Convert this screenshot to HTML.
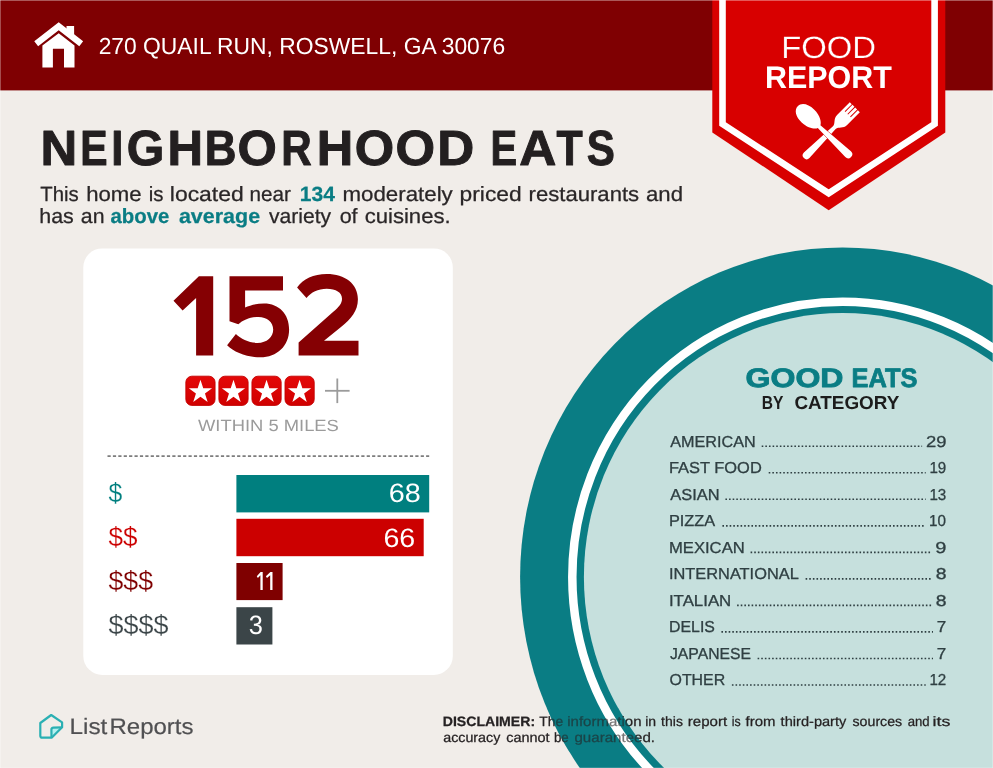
<!DOCTYPE html>
<html><head><meta charset="utf-8">
<style>
html,body{margin:0;padding:0;}
body{width:993px;height:768px;overflow:hidden;background:#f1ede9;}
svg{display:block;position:absolute;left:0;top:0;will-change:transform;}
text{font-family:"Liberation Sans",sans-serif;white-space:pre;text-rendering:geometricPrecision;}
</style></head><body>
<svg width="993" height="768" viewBox="0 0 993 768">
<defs>
<linearGradient id="sg" x1="0" y1="0" x2="0" y2="1"><stop offset="0" stop-color="#e40808"/><stop offset="1" stop-color="#d00000"/></linearGradient>
</defs>
<rect x="0" y="0" width="993" height="768" fill="#f1ede9"/>
<rect x="0" y="0" width="993" height="90.4" fill="#7f0002"/>
<!-- circle -->
<ellipse cx="842.6" cy="577" rx="322.5" ry="329.5" fill="#0a7d84"/>
<ellipse cx="842.6" cy="577" rx="270.3" ry="275.3" fill="none" stroke="#fff" stroke-width="8.5"/>
<ellipse cx="842.6" cy="577" rx="258.7" ry="263.9" fill="#c6e0dd"/>
<!-- badge -->
<polygon points="712.3,0 945.3,0 945.3,132.4 828.7,210.2 712.3,132.4" fill="#d80000"/>
<polyline points="722.5,-5 722.5,124 828.7,193.3 934.6,124 934.6,-5" fill="none" stroke="#fff" stroke-width="6.6" stroke-linejoin="miter"/>
<!-- house -->
<g fill="#fff">
<polygon points="66.5,26 74.1,26 74.1,35.5 66.5,29.5"/>
<polyline points="36.2,43.7 58.7,26.3 81.2,43.7" fill="none" stroke="#fff" stroke-width="6.3" stroke-linejoin="miter" stroke-miterlimit="10"/>
<polygon points="58.7,33.2 74.5,45.5 74.5,67.5 64,67.5 64,48.8 52.9,48.8 52.9,67.5 42.4,67.5 42.4,45.5"/>
</g>
<!-- spoon & fork -->
<g fill="#fff">
<g transform="translate(803.9,158.1) rotate(-45)">
<path d="M3.9 -3.9 L43 -1.9 C47 -2.1 48.5 -7.1 54 -7.1 L72 -7.1 L72 -4.3 L62 -4.3 L62 -3.3 L72 -3.3 L72 -0.5 L62 -0.5 L62 0.5 L72 0.5 L72 3.3 L62 3.3 L62 4.3 L72 4.3 L72 7.1 L54 7.1 C48.5 7.1 47 2.1 43 1.9 L3.9 3.9 A3.9 3.9 0 0 1 3.9 -3.9 Z"/>
</g>
<g transform="translate(797.7,106.3) rotate(43.5)" stroke="#d80000" stroke-width="0.9" paint-order="stroke">
<path d="M0 0 C0 -5.5 6 -9 14 -9 C23 -9 28.5 -4.5 29.5 -1.9 L69.5 -4.1 A4.1 4.1 0 0 1 69.5 4.1 L29.5 1.9 C28.5 4.5 23 9 14 9 C6 9 0 5.5 0 0 Z"/>
</g>
</g>
<!-- card -->
<rect x="83.3" y="248.4" width="369.5" height="426.5" rx="19" fill="#fff"/>
<g fill="#850003">
<polygon points="173.5,300.8 198.9,276.3 213.2,276.3 213.2,355.5 196.1,355.5 196.1,298 182.6,310.6"/>
<path d="M229.5 276.3 H283 V290.6 H245.1 V307.6 C250 305 257 303.5 264 303.5 C279 303.5 289.1 314 289.1 329.5 C289.1 346 277 357.3 260.4 357.3 C246 357.3 234 352 227.1 345.3 L235.9 334 C241 339 249 342.9 257.5 342.9 C267 342.9 273.2 337 273.2 329.5 C273.2 322 267 316.9 258.5 316.9 C250 316.9 243 320 238.3 324.3 L229.5 321.2 Z"/>
<path d="M297.1 287.6 C303 279 313.5 274.1 326.7 274.1 C345 274.1 357.9 284 357.9 299.2 C357.9 311 351 319 341 327 L324 340.8 H358.5 V355.5 H298.6 V342.6 L333 312 C339 307 342 303.5 342 298.8 C342 292.5 336 288.8 326.7 288.8 C318 288.8 311 292.5 306.5 298 Z"/>
</g>
<rect x="185.85" y="376.2" width="29.2" height="29.2" rx="6" fill="url(#sg)" stroke="#c40000" stroke-width="0.9"/><polygon points="200.45,379.75 203.24,388.16 212.10,388.21 204.97,393.47 207.65,401.91 200.45,396.75 193.25,401.91 195.93,393.47 188.80,388.21 197.66,388.16" fill="#fff"/><rect x="218.90" y="376.2" width="29.2" height="29.2" rx="6" fill="url(#sg)" stroke="#c40000" stroke-width="0.9"/><polygon points="233.50,379.75 236.29,388.16 245.15,388.21 238.02,393.47 240.70,401.91 233.50,396.75 226.30,401.91 228.98,393.47 221.85,388.21 230.71,388.16" fill="#fff"/><rect x="251.95" y="376.2" width="29.2" height="29.2" rx="6" fill="url(#sg)" stroke="#c40000" stroke-width="0.9"/><polygon points="266.55,379.75 269.34,388.16 278.20,388.21 271.07,393.47 273.75,401.91 266.55,396.75 259.35,401.91 262.03,393.47 254.90,388.21 263.76,388.16" fill="#fff"/><rect x="285.00" y="376.2" width="29.2" height="29.2" rx="6" fill="url(#sg)" stroke="#c40000" stroke-width="0.9"/><polygon points="299.60,379.75 302.39,388.16 311.25,388.21 304.12,393.47 306.80,401.91 299.60,396.75 292.40,401.91 295.08,393.47 287.95,388.21 296.81,388.16" fill="#fff"/>
<g stroke="#9b9b9b" stroke-width="1.8" fill="none"><line x1="325" y1="390.8" x2="349.6" y2="390.8"/><line x1="337.3" y1="378.5" x2="337.3" y2="403.1"/></g>
<line x1="107.5" y1="456.1" x2="429.2" y2="456.1" stroke="#7d7d7d" stroke-width="1.9" stroke-dasharray="3.2 2.2"/>
<rect x="236.4" y="475.0" width="192.8" height="37.4" fill="#007f7f"/>
<rect x="236.4" y="518.8" width="187.3" height="37.4" fill="#cc0000"/>
<rect x="236.4" y="563.0" width="46.2" height="37.1" fill="#7f0000"/>
<rect x="236.4" y="607.2" width="36.0" height="37.3" fill="#3b4548"/>
<polygon points="260.40,590.00 262.70,590.00 262.70,572.00 260.60,572.00 256.80,576.30 257.90,578.10 260.40,575.30" fill="#fff"/><polygon points="270.20,590.00 272.50,590.00 272.50,572.00 270.40,572.00 265.90,576.30 267.00,578.10 270.20,575.30" fill="#fff"/>
<!-- list dots -->
<g stroke="#2f3f42" stroke-width="1.6" stroke-dasharray="1.6 2.03"><line x1="761.7" y1="446.3" x2="922.1" y2="446.3"/><line x1="768.7" y1="472.8" x2="925.7" y2="472.8"/><line x1="725.4" y1="499.3" x2="925.7" y2="499.3"/><line x1="722.4" y1="525.9" x2="925.4" y2="525.9"/><line x1="750.6" y1="552.4" x2="931.6" y2="552.4"/><line x1="805.6" y1="578.9" x2="931.6" y2="578.9"/><line x1="737.1" y1="605.4" x2="931.6" y2="605.4"/><line x1="721.4" y1="631.9" x2="933.0" y2="631.9"/><line x1="757.6" y1="658.5" x2="933.0" y2="658.5"/><line x1="731.9" y1="685.0" x2="925.7" y2="685.0"/></g>
<!-- ListReports icon -->
<g fill="none" stroke="#2bb0b3" stroke-width="2.2" stroke-linejoin="round">
<path d="M51.3 727.6 L62 727.2 L51.6 737.6 Z" fill="#b5f0f0" stroke="none"/>
<path d="M51.2 715 L62.1 722.4 L62.1 727.2 L51.6 737.7 L42.3 737.7 Q40.3 737.7 40.3 735.7 L40.3 723 Z"/>
<path d="M62.1 727.3 L53.4 727.6 Q51.4 727.7 51.4 729.7 L51.5 737.6"/>
</g>
<text transform="matrix(0.9822 0.0004 0 1.0000 98.63 54.30)" font-size="23.26" fill="#fff">270 QUAIL RUN, ROSWELL, GA 30076</text>
<text transform="matrix(1.0601 0.0004 0 1.0000 781.24 57.70)" font-size="30.96" fill="#fff" stroke="#d80000" stroke-width="0.25">FOOD</text>
<text transform="matrix(0.9696 0.0004 0 1.0000 765.00 87.50)" font-size="31.40" font-weight="bold" fill="#fff">REPORT</text>
<text transform="matrix(1.0275 0.0004 0 1.0000 40.42 165.25)" font-size="49.50" font-weight="bold" fill="#231f20" stroke="#231f20" stroke-width="1.0" stroke-linejoin="round">N</text>
<text transform="matrix(0.8282 0.0004 0 1.0000 80.24 165.25)" font-size="49.50" font-weight="bold" fill="#231f20" stroke="#231f20" stroke-width="1.0" stroke-linejoin="round">E</text>
<text transform="matrix(0.8792 0.0004 0 1.0000 111.18 165.25)" font-size="49.50" font-weight="bold" fill="#231f20" stroke="#231f20" stroke-width="1.0" stroke-linejoin="round">I</text>
<text transform="matrix(0.9756 0.0004 0 1.0000 126.69 165.25)" font-size="49.50" font-weight="bold" fill="#231f20" stroke="#231f20" stroke-width="1.0" stroke-linejoin="round">G</text>
<text transform="matrix(0.9935 0.0004 0 1.0000 167.43 165.25)" font-size="49.50" font-weight="bold" fill="#231f20" stroke="#231f20" stroke-width="1.0" stroke-linejoin="round">H</text>
<text transform="matrix(0.8857 0.0004 0 1.0000 204.76 165.25)" font-size="49.50" font-weight="bold" fill="#231f20" stroke="#231f20" stroke-width="1.0" stroke-linejoin="round">B</text>
<text transform="matrix(1.0203 0.0004 0 1.0000 237.42 165.25)" font-size="49.50" font-weight="bold" fill="#231f20" stroke="#231f20" stroke-width="1.0" stroke-linejoin="round">O</text>
<text transform="matrix(0.8514 0.0004 0 1.0000 281.17 165.25)" font-size="49.50" font-weight="bold" fill="#231f20" stroke="#231f20" stroke-width="1.0" stroke-linejoin="round">R</text>
<text transform="matrix(1.0207 0.0004 0 1.0000 316.74 165.25)" font-size="49.50" font-weight="bold" fill="#231f20" stroke="#231f20" stroke-width="1.0" stroke-linejoin="round">H</text>
<text transform="matrix(1.0231 0.0004 0 1.0000 354.72 165.25)" font-size="49.50" font-weight="bold" fill="#231f20" stroke="#231f20" stroke-width="1.0" stroke-linejoin="round">O</text>
<text transform="matrix(1.0287 0.0004 0 1.0000 395.61 165.25)" font-size="49.50" font-weight="bold" fill="#231f20" stroke="#231f20" stroke-width="1.0" stroke-linejoin="round">O</text>
<text transform="matrix(1.0343 0.0004 0 1.0000 437.20 165.25)" font-size="49.50" font-weight="bold" fill="#231f20" stroke="#231f20" stroke-width="1.0" stroke-linejoin="round">D</text>
<text transform="matrix(0.8072 0.0004 0 1.0000 490.50 165.25)" font-size="49.50" font-weight="bold" fill="#231f20" stroke="#231f20" stroke-width="1.0" stroke-linejoin="round">E</text>
<text transform="matrix(1.0373 0.0004 0 1.0000 519.30 165.25)" font-size="49.50" font-weight="bold" fill="#231f20" stroke="#231f20" stroke-width="1.0" stroke-linejoin="round">A</text>
<text transform="matrix(0.8653 0.0004 0 1.0000 556.40 165.25)" font-size="49.50" font-weight="bold" fill="#231f20" stroke="#231f20" stroke-width="1.0" stroke-linejoin="round">T</text>
<text transform="matrix(0.8501 0.0004 0 1.0000 586.84 165.25)" font-size="49.50" font-weight="bold" fill="#231f20" stroke="#231f20" stroke-width="1.0" stroke-linejoin="round">S</text>
<text transform="matrix(0.9894 0.0004 0 1.0000 40.31 200.70)" font-size="20.60" fill="#2a2627" stroke="#2a2627" stroke-width="0.25" stroke-linejoin="round">This</text>
<text transform="matrix(1.0757 0.0004 0 1.0000 86.14 200.70)" font-size="20.60" fill="#2a2627" stroke="#2a2627" stroke-width="0.25" stroke-linejoin="round">home</text>
<text transform="matrix(0.9926 0.0004 0 1.0000 148.65 200.70)" font-size="20.60" fill="#2a2627" stroke="#2a2627" stroke-width="0.25" stroke-linejoin="round">is</text>
<text transform="matrix(1.1136 0.0004 0 1.0000 169.79 200.70)" font-size="20.60" fill="#2a2627" stroke="#2a2627" stroke-width="0.25" stroke-linejoin="round">located</text>
<text transform="matrix(1.0052 0.0004 0 1.0000 249.43 200.70)" font-size="20.60" fill="#2a2627" stroke="#2a2627" stroke-width="0.25" stroke-linejoin="round">near</text>
<text transform="matrix(1.0222 0.0004 0 1.0000 299.81 200.70)" font-size="20.60" font-weight="bold" fill="#0a7d84" stroke="#0a7d84" stroke-width="0.25" stroke-linejoin="round">134</text>
<text transform="matrix(1.0828 0.0004 0 1.0000 342.43 200.70)" font-size="20.60" fill="#2a2627" stroke="#2a2627" stroke-width="0.25" stroke-linejoin="round">moderately</text>
<text transform="matrix(1.1060 0.0004 0 1.0000 459.60 200.70)" font-size="20.60" fill="#2a2627" stroke="#2a2627" stroke-width="0.25" stroke-linejoin="round">priced</text>
<text transform="matrix(1.0735 0.0004 0 1.0000 528.54 200.70)" font-size="20.60" fill="#2a2627" stroke="#2a2627" stroke-width="0.25" stroke-linejoin="round">restaurants</text>
<text transform="matrix(1.0762 0.0004 0 1.0000 646.03 200.70)" font-size="20.60" fill="#2a2627" stroke="#2a2627" stroke-width="0.25" stroke-linejoin="round">and</text>
<text transform="matrix(1.0405 0.0004 0 1.0000 39.29 222.70)" font-size="20.60" fill="#2a2627" stroke="#2a2627" stroke-width="0.25" stroke-linejoin="round">has</text>
<text transform="matrix(1.0349 0.0004 0 1.0000 80.86 222.70)" font-size="20.60" fill="#2a2627" stroke="#2a2627" stroke-width="0.25" stroke-linejoin="round">an</text>
<text transform="matrix(0.9906 0.0004 0 1.0000 110.41 222.70)" font-size="20.60" font-weight="bold" fill="#0a7d84" stroke="#0a7d84" stroke-width="0.25" stroke-linejoin="round">above</text>
<text transform="matrix(1.0428 0.0004 0 1.0000 178.89 222.70)" font-size="20.60" font-weight="bold" fill="#0a7d84" stroke="#0a7d84" stroke-width="0.25" stroke-linejoin="round">average</text>
<text transform="matrix(1.0243 0.0004 0 1.0000 268.93 222.70)" font-size="20.60" fill="#2a2627" stroke="#2a2627" stroke-width="0.25" stroke-linejoin="round">variety</text>
<text transform="matrix(1.0448 0.0004 0 1.0000 339.65 222.70)" font-size="20.60" fill="#2a2627" stroke="#2a2627" stroke-width="0.25" stroke-linejoin="round">of</text>
<text transform="matrix(1.0735 0.0004 0 1.0000 364.63 222.70)" font-size="20.60" fill="#2a2627" stroke="#2a2627" stroke-width="0.25" stroke-linejoin="round">cuisines.</text>
<text transform="matrix(1.1294 0.0004 0 1.0000 198.00 431.40)" font-size="16.28" fill="#9b9b9b">WITHIN 5 MILES</text>
<text transform="matrix(1.0821 0.0004 0 1.0000 388.65 502.30)" font-size="26.60" fill="#fff">68</text>
<text transform="matrix(1.0748 0.0004 0 1.0000 383.46 546.60)" font-size="26.60" fill="#fff">66</text>
<text transform="matrix(0.9547 0.0004 0 1.0000 248.81 633.90)" font-size="26.60" fill="#fff">3</text>
<text transform="matrix(0.9565 0.0004 0 1.0403 108.40 501.89)" font-size="26.00" fill="#007f7f" stroke="#fff" stroke-width="0.2">$</text>
<text transform="matrix(1.0042 0.0004 0 1.0403 108.40 545.79)" font-size="26.00" fill="#cc0000" stroke="#fff" stroke-width="0.2">$$</text>
<text transform="matrix(1.0292 0.0004 0 1.0403 108.40 589.79)" font-size="26.00" fill="#7f0000" stroke="#fff" stroke-width="0.2">$$$</text>
<text transform="matrix(1.0382 0.0004 0 1.0403 108.40 633.79)" font-size="26.00" fill="#3b4548" stroke="#fff" stroke-width="0.2">$$$$</text>
<text transform="matrix(1.1994 0.0004 0 1.0000 745.50 386.60)" font-size="26.74" font-weight="bold" fill="#0a7d84" stroke="#0a7d84" stroke-width="0.8" stroke-linejoin="round">GOOD</text>
<text transform="matrix(0.9513 0.0004 0 1.0000 851.61 386.60)" font-size="26.74" font-weight="bold" fill="#0a7d84" stroke="#0a7d84" stroke-width="0.8" stroke-linejoin="round">EATS</text>
<text transform="matrix(0.8309 0.0004 0 1.0000 761.83 408.50)" font-size="18.75" font-weight="bold" fill="#1c1c1c">BY</text>
<text transform="matrix(1.0070 0.0004 0 1.0000 794.41 408.50)" font-size="18.75" font-weight="bold" fill="#1c1c1c">CATEGORY</text>
<text transform="matrix(1.0239 0.0004 0 1.0000 670.25 446.80)" font-size="15.84" fill="#2f3f42" stroke="#2f3f42" stroke-width="0.3" stroke-linejoin="round">AMERICAN</text>
<text transform="matrix(1.1640 0.0004 0 1.0000 925.89 446.80)" font-size="15.84" fill="#2f3f42" stroke="#2f3f42" stroke-width="0.3" stroke-linejoin="round">29</text>
<text transform="matrix(1.0376 0.0004 0 1.0000 668.97 473.32)" font-size="15.84" fill="#2f3f42" stroke="#2f3f42" stroke-width="0.3" stroke-linejoin="round">FAST FOOD</text>
<text transform="matrix(0.9568 0.0004 0 1.0000 929.40 473.32)" font-size="15.84" fill="#2f3f42" stroke="#2f3f42" stroke-width="0.3" stroke-linejoin="round">19</text>
<text transform="matrix(1.0378 0.0004 0 1.0000 670.25 499.84)" font-size="15.84" fill="#2f3f42" stroke="#2f3f42" stroke-width="0.3" stroke-linejoin="round">ASIAN</text>
<text transform="matrix(0.9568 0.0004 0 1.0000 929.40 499.84)" font-size="15.84" fill="#2f3f42" stroke="#2f3f42" stroke-width="0.3" stroke-linejoin="round">13</text>
<text transform="matrix(1.0290 0.0004 0 1.0000 668.98 526.36)" font-size="15.84" fill="#2f3f42" stroke="#2f3f42" stroke-width="0.3" stroke-linejoin="round">PIZZA</text>
<text transform="matrix(0.9607 0.0004 0 1.0000 929.10 526.36)" font-size="15.84" fill="#2f3f42" stroke="#2f3f42" stroke-width="0.3" stroke-linejoin="round">10</text>
<text transform="matrix(1.0509 0.0004 0 1.0000 668.95 552.88)" font-size="15.84" fill="#2f3f42" stroke="#2f3f42" stroke-width="0.3" stroke-linejoin="round">MEXICAN</text>
<text transform="matrix(1.2658 0.0004 0 1.0000 935.31 552.88)" font-size="15.84" fill="#2f3f42" stroke="#2f3f42" stroke-width="0.3" stroke-linejoin="round">9</text>
<text transform="matrix(1.0343 0.0004 0 1.0000 668.97 579.40)" font-size="15.84" fill="#2f3f42" stroke="#2f3f42" stroke-width="0.3" stroke-linejoin="round">INTERNATIONAL</text>
<text transform="matrix(1.2249 0.0004 0 1.0000 935.64 579.40)" font-size="15.84" fill="#2f3f42" stroke="#2f3f42" stroke-width="0.3" stroke-linejoin="round">8</text>
<text transform="matrix(1.0630 0.0004 0 1.0000 668.93 605.92)" font-size="15.84" fill="#2f3f42" stroke="#2f3f42" stroke-width="0.3" stroke-linejoin="round">ITALIAN</text>
<text transform="matrix(1.2249 0.0004 0 1.0000 935.64 605.92)" font-size="15.84" fill="#2f3f42" stroke="#2f3f42" stroke-width="0.3" stroke-linejoin="round">8</text>
<text transform="matrix(1.0026 0.0004 0 1.0000 669.01 632.44)" font-size="15.84" fill="#2f3f42" stroke="#2f3f42" stroke-width="0.3" stroke-linejoin="round">DELIS</text>
<text transform="matrix(1.0772 0.0004 0 1.0000 936.85 632.44)" font-size="15.84" fill="#2f3f42" stroke="#2f3f42" stroke-width="0.3" stroke-linejoin="round">7</text>
<text transform="matrix(0.9941 0.0004 0 1.0000 670.00 658.96)" font-size="15.84" fill="#2f3f42" stroke="#2f3f42" stroke-width="0.3" stroke-linejoin="round">JAPANESE</text>
<text transform="matrix(1.0772 0.0004 0 1.0000 936.85 658.96)" font-size="15.84" fill="#2f3f42" stroke="#2f3f42" stroke-width="0.3" stroke-linejoin="round">7</text>
<text transform="matrix(1.0063 0.0004 0 1.0000 669.50 685.48)" font-size="15.84" fill="#2f3f42" stroke="#2f3f42" stroke-width="0.3" stroke-linejoin="round">OTHER</text>
<text transform="matrix(0.9568 0.0004 0 1.0000 929.40 685.48)" font-size="15.84" fill="#2f3f42" stroke="#2f3f42" stroke-width="0.3" stroke-linejoin="round">12</text>
<text transform="matrix(1.0928 0.0004 0 1.0000 69.50 734.20)" font-size="22.24" fill="#505052" stroke="#505052" stroke-width="0.2" stroke-linejoin="round">List</text>
<text transform="matrix(1.0804 0.0004 0 1.0000 109.42 734.20)" font-size="22.24" fill="#505052" stroke="#505052" stroke-width="0.2" stroke-linejoin="round">Reports</text>
<text transform="matrix(1.0365 0.0004 0 1.0000 442.74 726.20)" font-size="13.60" font-weight="bold" fill="#262223" stroke="#262223" stroke-width="0.25" stroke-linejoin="round">DISCLAIMER:</text>
<text transform="matrix(1.0211 0.0004 0 1.0000 539.21 726.20)" font-size="13.60" fill="#262223" stroke="#262223" stroke-width="0.25" stroke-linejoin="round">The</text>
<text transform="matrix(1.1049 0.0004 0 1.0000 567.19 726.20)" font-size="13.60" fill="#262223" stroke="#262223" stroke-width="0.25" stroke-linejoin="round">information</text>
<text transform="matrix(1.0310 0.0004 0 1.0000 645.15 726.20)" font-size="13.60" fill="#262223" stroke="#262223" stroke-width="0.25" stroke-linejoin="round">in</text>
<text transform="matrix(1.0295 0.0004 0 1.0000 661.12 726.20)" font-size="13.60" fill="#262223" stroke="#262223" stroke-width="0.25" stroke-linejoin="round">this</text>
<text transform="matrix(1.1073 0.0004 0 1.0000 687.78 726.20)" font-size="13.60" fill="#262223" stroke="#262223" stroke-width="0.25" stroke-linejoin="round">report</text>
<text transform="matrix(0.9068 0.0004 0 1.0000 731.75 726.20)" font-size="13.60" fill="#262223" stroke="#262223" stroke-width="0.25" stroke-linejoin="round">is</text>
<text transform="matrix(1.1002 0.0004 0 1.0000 745.52 726.20)" font-size="13.60" fill="#262223" stroke="#262223" stroke-width="0.25" stroke-linejoin="round">from</text>
<text transform="matrix(1.0740 0.0004 0 1.0000 780.62 726.20)" font-size="13.60" fill="#262223" stroke="#262223" stroke-width="0.25" stroke-linejoin="round">third-party</text>
<text transform="matrix(1.0440 0.0004 0 1.0000 852.50 726.20)" font-size="13.60" fill="#262223" stroke="#262223" stroke-width="0.25" stroke-linejoin="round">sources</text>
<text transform="matrix(0.9697 0.0004 0 1.0000 907.71 726.20)" font-size="13.60" fill="#262223" stroke="#262223" stroke-width="0.25" stroke-linejoin="round">and</text>
<text transform="matrix(1.3103 0.0004 0 1.0000 932.51 726.20)" font-size="13.60" fill="#262223" stroke="#262223" stroke-width="0.25" stroke-linejoin="round">its</text>
<text transform="matrix(1.0510 0.0004 0 1.0000 443.18 742.30)" font-size="13.60" fill="#262223" stroke="#262223" stroke-width="0.25" stroke-linejoin="round">accuracy</text>
<text transform="matrix(1.0642 0.0004 0 1.0000 506.17 742.30)" font-size="13.60" fill="#262223" stroke="#262223" stroke-width="0.25" stroke-linejoin="round">cannot</text>
<text transform="matrix(0.9799 0.0004 0 1.0000 553.89 742.30)" font-size="13.60" fill="#262223" stroke="#262223" stroke-width="0.25" stroke-linejoin="round">be</text>
<text transform="matrix(1.1101 0.0004 0 1.0000 574.45 742.30)" font-size="13.60" fill="#262223" stroke="#262223" stroke-width="0.25" stroke-linejoin="round">guaranteed.</text>
<g opacity="0.38"><clipPath id="dc"><rect x="436" y="708" width="240" height="44"/></clipPath>
<g clip-path="url(#dc)">
<path fill-rule="evenodd" fill="#0a7d84" d="M520.1 577 a322.5 329.5 0 1 0 645.0 0 a322.5 329.5 0 1 0 -645.0 0 Z M584.6 577 a258.0 265.0 0 1 0 516.0 0 a258.0 265.0 0 1 0 -516.0 0 Z"/>
<ellipse cx="842.6" cy="577" rx="270.3" ry="275.3" fill="none" stroke="#fff" stroke-width="8.5"/>
</g></g>
<rect x="0" y="0" width="993" height="1" fill="#fff" opacity="0.35"/>
<rect x="0" y="0" width="1" height="768" fill="#fff" opacity="0.3"/>
<rect x="992" y="0" width="1" height="768" fill="#fff" opacity="0.25"/>
<rect x="0" y="767" width="993" height="1" fill="#fff" opacity="0.15"/>
</svg>
</body></html>
